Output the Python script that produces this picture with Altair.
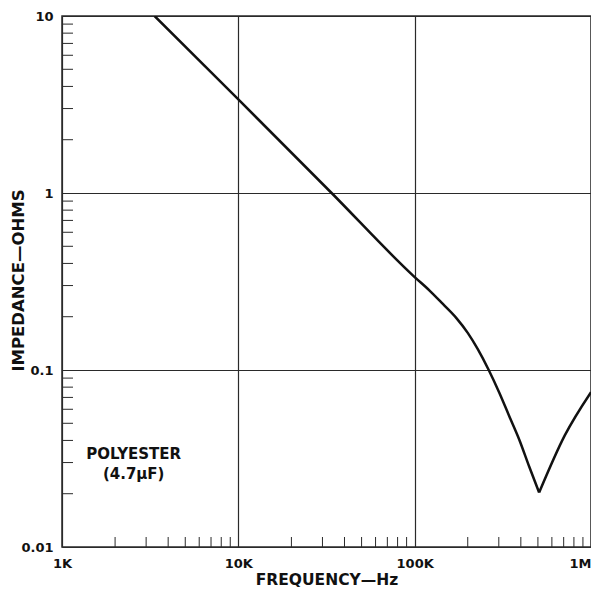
import altair as alt
import pandas as pd

# Impedance curve (two branches meeting at the resonance dip)
freq_hz = [3350, 10000, 33800, 100000, 121500, 144500, 172000, 200000, 228000,
           263000, 302000, 344000, 392000, 446000, 508000,
           508000, 710000, 1000000]
impedance_ohm = [10, 3.38, 1.0, 0.335, 0.281, 0.236, 0.197, 0.162, 0.131,
                 0.1, 0.0744, 0.0548, 0.0404, 0.0285, 0.0203,
                 0.0203, 0.0427, 0.075]
branch = ["a"] * 15 + ["b"] * 3

# Axes
x_decades = [1000, 10000, 100000, 1000000]
x_labels = ["1K", "10K", "100K", "1M"]
y_decades = [10, 1, 0.1, 0.01]
y_labels = ["10", "1", "0.1", "0.01"]
minor_mult = [2, 3, 4, 5, 6, 7, 8, 9]

# Annotation
note_text = ["POLYESTER", "(4.7\u00b5F)"]
note_x = [2550, 2550]
note_y = [0.0336, 0.026]

curve = pd.DataFrame({"f": freq_hz, "z": impedance_ohm, "b": branch})
curve["i"] = range(len(curve))
xminor = pd.DataFrame({"f": [m * d for d in x_decades[:-1] for m in minor_mult]})
yminor = pd.DataFrame({"z": [m * d for d in y_decades[1:] for m in minor_mult]})
notes = pd.DataFrame({"t": note_text, "f": note_x, "z": note_y})

W = 529
H = 531
FONT = "DejaVu Sans"
INK = "#2a2a2a"

def label_expr(vals, labs):
    expr = "''"
    for v, l in zip(vals, labs):
        expr = f"abs(datum.value - {v}) < {v}*0.01 ? '{l}' : ({expr})"
    return expr

xscale = alt.Scale(type="log", domain=[1000, 1000000], nice=False)
yscale = alt.Scale(type="log", domain=[0.01, 10], nice=False)

xaxis = alt.Axis(values=x_decades, labelExpr=label_expr(x_decades, x_labels),
                 title="FREQUENCY\u2014Hz", grid=True, gridColor=INK, gridWidth=1.2,
                 gridOpacity=1, ticks=False, domain=False, labelPadding=10,
                 labelFlush=False,
                 labelAlign={"expr": "datum.value > 500000 ? 'right' : 'center'"},
                 labelFont=FONT, labelFontSize=13, labelFontWeight="bold", labelColor="#111",
                 titleFont=FONT, titleFontSize=15.5, titleFontWeight="bold", titleColor="#111",
                 titleY=32, titleBaseline="middle")
yaxis = alt.Axis(values=y_decades, labelExpr=label_expr(y_decades, y_labels),
                 title="IMPEDANCE\u2014OHMS", grid=True, gridColor=INK, gridWidth=1.2,
                 gridOpacity=1, ticks=False, domain=False, labelPadding=9, labelFlush=False,
                 labelFont=FONT, labelFontSize=13, labelFontWeight="bold", labelColor="#111",
                 titleFont=FONT, titleFontSize=16.5, titleFontWeight="bold", titleColor="#111",
                 titleX=-44, titleY=264, titleAngle=270, titleAlign="center",
                 titleBaseline="middle")

line = alt.Chart(curve).mark_line(color="#111", strokeWidth=2.5, clip=True,
                                  interpolate="monotone").encode(
    x=alt.X("f:Q", scale=xscale, axis=xaxis),
    y=alt.Y("z:Q", scale=yscale, axis=yaxis),
    detail="b:N",
    order="i:Q",
)

xt = alt.Chart(xminor).mark_rule(color=INK, strokeWidth=1).encode(
    x=alt.X("f:Q", scale=xscale),
    y=alt.value(H - 10),
    y2=alt.value(H),
)

yt = alt.Chart(yminor).mark_rule(color=INK, strokeWidth=1).encode(
    y=alt.Y("z:Q", scale=yscale),
    x=alt.value(0),
    x2=alt.value(11),
)

txt = alt.Chart(notes).mark_text(font=FONT, fontSize=15, fontWeight="bold",
                                 color="#111", align="center", baseline="middle").encode(
    x=alt.X("f:Q", scale=xscale),
    y=alt.Y("z:Q", scale=yscale),
    text="t:N",
)

chart = alt.layer(xt, yt, line, txt).properties(
    width=W, height=H,
    autosize=alt.AutoSizeParams(type="none"),
    padding={"left": 54, "top": 8, "right": 0, "bottom": 41},
    background="white",
).configure_view(stroke=INK, strokeWidth=1.5)

chart.save("out.html", embed_options={"renderer": "svg", "actions": False})
